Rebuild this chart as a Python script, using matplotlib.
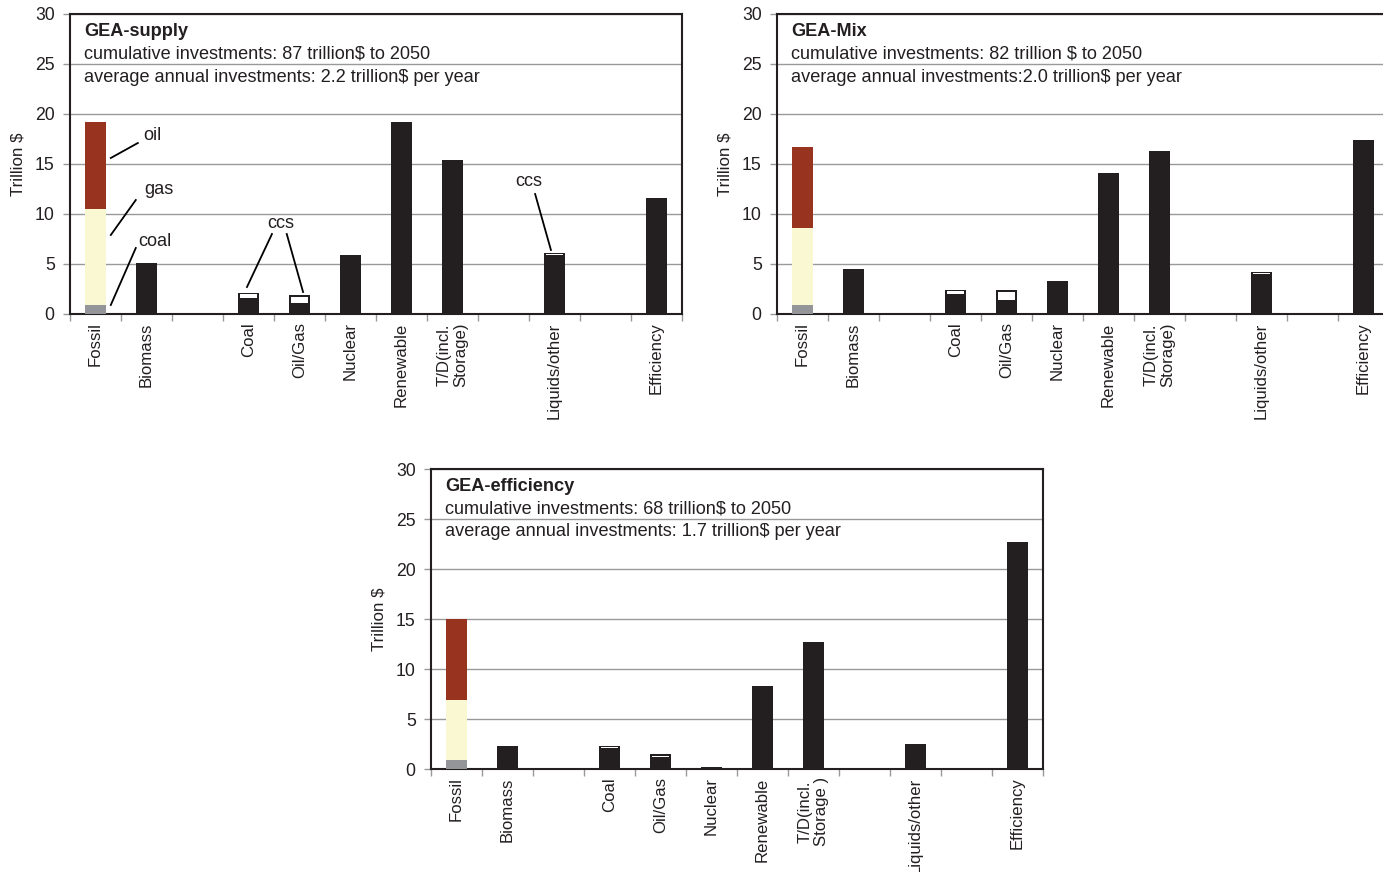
import matplotlib.pyplot as plt
import numpy as np

plt.rcParams['font.family'] = ['Liberation Sans', 'DejaVu Sans']

# dane do wykresu
categories = ['Fossil', 'Biomass', '', 'Coal', 'Oil/Gas', 'Nuclear', 'Renewable',
              'T/D(incl.\nStorage)', '', 'Liquids/other', '', 'Efficiency']
categories_eff = ['Fossil', 'Biomass', '', 'Coal', 'Oil/Gas', 'Nuclear', 'Renewable',
                  'T/D(incl.\nStorage )', '', 'Liquids/other', '', 'Efficiency']

scenarios = ['GEA-supply', 'GEA-Mix', 'GEA-efficiency']
cumulative = ['cumulative investments: 87 trillion$ to 2050',
              'cumulative investments: 82 trillion $ to 2050',
              'cumulative investments: 68 trillion$ to 2050']
annual = ['average annual investments: 2.2 trillion$ per year',
          'average annual investments:2.0 trillion$ per year',
          'average annual investments: 1.7 trillion$ per year']

# fossil stack: coal, gas, oil
fossil_coal = [0.93, 0.85, 0.93]
fossil_gas = [9.6, 7.7, 6.0]
fossil_oil = [8.63, 8.1, 8.05]

supply_base = [0, 5.05, 0, 1.64, 1.07, 5.89, 19.2, 15.4, 0, 5.85, 0, 11.57]
supply_ccs = [0, 0, 0, 0.5, 0.8, 0, 0, 0, 0, 0.25, 0, 0]
mix_base = [0, 4.54, 0, 1.97, 1.4, 3.34, 14.14, 16.25, 0, 4.02, 0, 17.35]
mix_ccs = [0, 0, 0, 0.43, 0.97, 0, 0, 0, 0, 0.18, 0, 0]
eff_base = [0, 2.27, 0, 2.15, 1.17, 0.2, 8.33, 12.67, 0, 2.5, 0, 22.7]
eff_ccs = [0, 0, 0, 0.18, 0.3, 0, 0, 0, 0, 0, 0, 0]

base_values = [supply_base, mix_base, eff_base]
ccs_values = [supply_ccs, mix_ccs, eff_ccs]
labels_all = [categories, categories, categories_eff]

dark = '#231f20'
c_coal = '#939598'
c_gas = '#faf8d2'
c_oil = '#983320'
fs = 12.7
fs_txt = 13.1

fig = plt.figure(figsize=(13.83, 8.72), dpi=100)
fig.patch.set_facecolor('white')

W = 612 / 1383
H = 300 / 872
positions = [[70 / 1383, 1 - 314 / 872, W, H],
             [777 / 1383, 1 - 314 / 872, W, H],
             [431 / 1383, 1 - 769 / 872, W, H]]

axes = []
for i in range(3):
    ax = fig.add_axes(positions[i])
    axes.append(ax)
    x = np.arange(len(labels_all[i]))
    base = np.array(base_values[i])
    ccs = np.array(ccs_values[i])
    w = 0.4

    # fossil - slupek skumulowany
    ax.bar(x[0], fossil_coal[i], width=w, color=c_coal, zorder=3)
    ax.bar(x[0], fossil_gas[i], width=w, bottom=fossil_coal[i], color=c_gas, zorder=3)
    ax.bar(x[0], fossil_oil[i], width=w, bottom=fossil_coal[i] + fossil_gas[i],
           color=c_oil, zorder=3)

    # pozostale slupki (czarne) + ccs (bialy srodek z czarna ramka)
    tot = base + ccs
    m = tot > 0
    ax.bar(x[m], tot[m], width=w, color=dark, zorder=3)
    mc = ccs > 0
    ax.bar(x[mc], ccs[mc] - 0.15, width=w - 0.07, bottom=base[mc], color='white',
           linewidth=0, zorder=4)

    ax.set_xlim(-0.5, len(labels_all[i]) - 0.5)
    ax.set_ylim(0, 30)
    ax.set_yticks(np.arange(0, 31, 5))
    ax.grid(axis='y', color='#999999', linewidth=1.0, zorder=0)
    ax.set_axisbelow(True)

    ax.set_xticks(x)
    ax.set_xticklabels(labels_all[i], rotation=90, fontsize=12.1, color=dark,
                       linespacing=1.15)
    ax.tick_params(axis='x', which='major', length=0, pad=6)
    ax.set_xticks(np.arange(-0.5, len(labels_all[i]), 1.0), minor=True)
    ax.tick_params(axis='x', which='minor', length=5, width=1, color='#999999',
                   direction='out')
    ax.tick_params(axis='y', length=5, width=1, color='#999999', labelsize=fs,
                   labelcolor=dark, pad=6)

    for s in ax.spines.values():
        s.set_color(dark)
        s.set_linewidth(1.5)

    ax.set_ylabel('Trillion $', fontsize=fs - 0.5, color=dark)
    ax.yaxis.set_label_coords(-0.073, 0.5)

    ax.text(0.023, 0.941, scenarios[i], transform=ax.transAxes, fontsize=fs_txt,
            fontweight='bold', color=dark, va='center', ha='left')
    ax.text(0.023, 0.867, cumulative[i], transform=ax.transAxes, fontsize=fs_txt,
            color=dark, va='center', ha='left')
    ax.text(0.023, 0.79, annual[i], transform=ax.transAxes, fontsize=fs_txt,
            color=dark, va='center', ha='left')

# adnotacje - tylko na pierwszym wykresie
ax = axes[0]
lw = 1.3
ax.plot([0.30, 0.83], [15.6, 17.1], color='black', lw=lw, zorder=5)
ax.text(0.93, 17.85, 'oil', fontsize=fs_txt, color=dark, va='center', ha='left')
ax.plot([0.30, 0.79], [7.9, 11.4], color='black', lw=lw, zorder=5)
ax.text(0.95, 12.5, 'gas', fontsize=fs_txt, color=dark, va='center', ha='left')
ax.plot([0.30, 0.79], [0.9, 6.6], color='black', lw=lw, zorder=5)
ax.text(0.83, 7.3, 'coal', fontsize=fs_txt, color=dark, va='center', ha='left')

ax.text(3.64, 9.0, 'ccs', fontsize=fs_txt, color=dark, va='center', ha='center')
ax.plot([3.46, 2.97], [8.0, 2.7], color='black', lw=lw, zorder=5)
ax.plot([3.75, 4.07], [8.0, 2.2], color='black', lw=lw, zorder=5)
ax.text(8.5, 13.2, 'ccs', fontsize=fs_txt, color=dark, va='center', ha='center')
ax.plot([8.62, 8.93], [12.0, 6.4], color='black', lw=lw, zorder=5)

plt.savefig('out.png', dpi=100)
